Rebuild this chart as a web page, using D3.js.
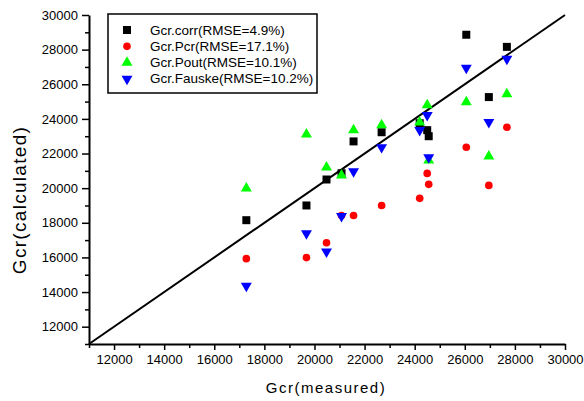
<!DOCTYPE html>
<meta charset="utf-8">
<script src="https://d3js.org/d3.v7.min.js"></script>
<style>
  body { margin: 0; background: #fff; }
  text { font-family: Arial, "Liberation Sans", sans-serif; }
</style>
<div id="chart"></div>
<script>
  // measured values (x) shared by all four series
  var measured = [17280, 19680, 20480, 21080, 21560, 22680, 24200, 24500, 24560, 26060, 26960, 27680];
  var gcrCorr   = [18150, 19000, 20500, 20860, 22700, 23230, 23750, 23350, 23000, 28860, 25260, 28160];
  var gcrPcr    = [15930, 15990, 16850, 18420, 18420, 19000, 19410, 20850, 20220, 22360, 20160, 23520];
  var gcrPout   = [19990, 23110, 21200, 20740, 23350, 23640, 23800, 24800, 21600, 24970, 21840, 25430];
  var gcrFauske = [14360, 17380, 16330, 18380, 20970, 22360, 23350, 24220, 21780, 26940, 23810, 27460];
  var seriesNames = ["Gcr.corr(RMSE=4.9%)", "Gcr.Pcr(RMSE=17.1%)", "Gcr.Pout(RMSE=10.1%)", "Gcr.Fauske(RMSE=10.2%)"];
  var majorTicks = [12000, 14000, 16000, 18000, 20000, 22000, 24000, 26000, 28000, 30000];
  var minorTicks = [11000, 13000, 15000, 17000, 19000, 21000, 23000, 25000, 27000, 29000];

  var width = 584, height = 401;
  var svg = d3.select("#chart").append("svg")
    .attr("width", width)
    .attr("height", height);

  var x = d3.scaleLinear().domain([11000, 30000]).range([89, 565]);
  var y = d3.scaleLinear().domain([11000, 30000]).range([344, 15]);

  // marker shapes, one per series
  var series = [
    { name: seriesNames[0], values: gcrCorr,   color: "#000000", sym: d3.symbolSquare,   size: 64 },
    { name: seriesNames[1], values: gcrPcr,    color: "#ff0000", sym: d3.symbolCircle,   size: 46 },
    { name: seriesNames[2], values: gcrPout,   color: "#00ff00", sym: d3.symbolTriangle, size: 52 },
    { name: seriesNames[3], values: gcrFauske, color: "#0000ff", sym: d3.symbolTriangle, size: 52, flip: true }
  ];

  // minor ticks
  svg.append("g")
    .attr("transform", "translate(0," + y(11000) + ")")
    .call(d3.axisBottom(x).tickValues(minorTicks).tickSize(4).tickSizeOuter(0).tickFormat(""))
    .call(function (g) { g.select(".domain").remove(); g.selectAll("line").attr("stroke-width", 1.5); });
  svg.append("g")
    .attr("transform", "translate(" + x(11000) + ",0)")
    .call(d3.axisLeft(y).tickValues(minorTicks).tickSize(4).tickSizeOuter(0).tickFormat(""))
    .call(function (g) { g.select(".domain").remove(); g.selectAll("line").attr("stroke-width", 1.5); });

  // major axes
  var xAxis = svg.append("g")
    .attr("transform", "translate(0," + y(11000) + ")")
    .call(d3.axisBottom(x).tickValues(majorTicks).tickSize(6).tickSizeOuter(0).tickPadding(5).tickFormat(d3.format("d")));
  var yAxis = svg.append("g")
    .attr("transform", "translate(" + x(11000) + ",0)")
    .call(d3.axisLeft(y).tickValues(majorTicks).tickSize(7).tickSizeOuter(0).tickPadding(4).tickFormat(d3.format("d")));

  [xAxis, yAxis].forEach(function (g) {
    g.select(".domain").attr("stroke-width", 2);
    g.selectAll(".tick line").attr("stroke-width", 1.5);
    g.selectAll("text").attr("font-size", 13).attr("fill", "#000")
      .attr("font-family", "Arial, 'Liberation Sans', sans-serif");
  });

  // y = x reference line
  svg.append("line")
    .attr("x1", x(11000)).attr("y1", y(11000))
    .attr("x2", x(30000)).attr("y2", y(30000))
    .attr("stroke", "#000").attr("stroke-width", 2);

  // points
  series.forEach(function (s) {
    svg.append("g").selectAll("path")
      .data(s.values)
      .enter().append("path")
      .attr("d", d3.symbol().type(s.sym).size(s.size))
      .attr("transform", function (d, i) {
        return "translate(" + x(measured[i]) + "," + y(d) + ")" + (s.flip ? " rotate(180)" : "");
      })
      .attr("fill", s.color);
  });

  // axis titles
  svg.append("text")
    .attr("x", 326).attr("y", 393)
    .attr("text-anchor", "middle")
    .attr("font-size", 15)
    .attr("letter-spacing", 1.5)
    .text("Gcr(measured)");

  svg.append("text")
    .attr("transform", "translate(26,200) rotate(-90)")
    .attr("text-anchor", "middle")
    .attr("font-size", 19)
    .attr("letter-spacing", 1.3)
    .text("Gcr(calculated)");

  // legend
  var legend = svg.append("g");
  legend.append("rect")
    .attr("x", 108).attr("y", 14)
    .attr("width", 209).attr("height", 79)
    .attr("fill", "#fff").attr("stroke", "#000").attr("stroke-width", 1.5);

  series.forEach(function (s, i) {
    var ly = 30 + i * 16.3;
    legend.append("path")
      .attr("d", d3.symbol().type(s.sym).size(s.size))
      .attr("transform", "translate(127," + ly + ")" + (s.flip ? " rotate(180)" : ""))
      .attr("fill", s.color);
    legend.append("text")
      .attr("x", 150).attr("y", ly + 4.5)
      .attr("font-size", 13.5)
      .text(s.name);
  });
</script>
